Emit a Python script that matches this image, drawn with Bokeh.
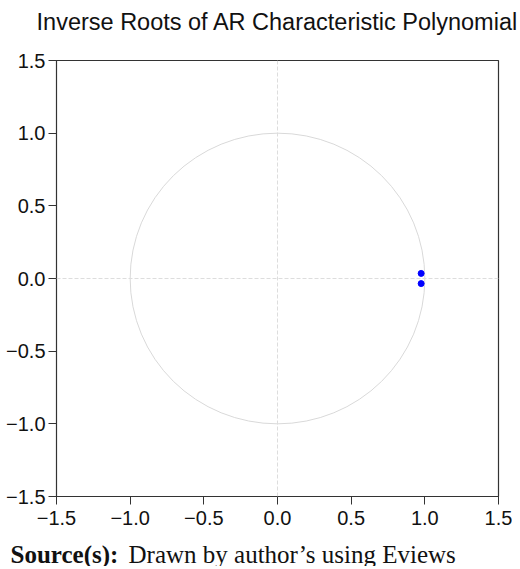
from bokeh.plotting import figure
from bokeh.models import Label, Span, Range1d, FixedTicker
from bokeh.embed import file_html
from bokeh.resources import INLINE

# data
root_re = [0.975, 0.975]
root_im = [0.035, -0.035]
ticks = [-1.5, -1.0, -0.5, 0.0, 0.5, 1.0, 1.5]
tick_labels = ["\u22121.5", "\u22121.0", "\u22120.5", "0.0", "0.5", "1.0", "1.5"]
title_text = "Inverse Roots of AR Characteristic Polynomial"
source_bold = "Source(s):"
source_text = "Drawn by author\u2019s using Eviews"

W = 512


def text_fig(w, h):
    f = figure(width=w, height=h, output_backend="svg", toolbar_location=None,
               x_range=Range1d(0, w), y_range=Range1d(h, 0),
               x_axis_type=None, y_axis_type=None,
               min_border=0, min_border_left=0, min_border_right=0,
               min_border_top=0, min_border_bottom=0)
    f.grid.visible = False
    f.outline_line_color = None
    return f


top = text_fig(518, 40)
top.add_layout(Label(x=277, y=21, text=title_text, text_font="Liberation Sans",
                     text_font_size="23.5px", text_color="#111111",
                     text_align="center", text_baseline="alphabetic"))

p = figure(width=W, height=496, output_backend="svg", toolbar_location=None,
           x_range=Range1d(-1.5, 1.5), y_range=Range1d(-1.5, 1.5),
           min_border_left=56, min_border_right=14, min_border_top=20, min_border_bottom=40)
p.grid.visible = False
p.outline_line_color = "#333333"
p.outline_line_width = 1.2
p.outline_line_alpha = 1.0

for ax in (p.xaxis[0], p.yaxis[0]):
    ax.ticker = FixedTicker(ticks=ticks)
    ax.major_label_overrides = {t: l for t, l in zip(ticks, tick_labels)}
    ax.major_label_text_font = "Liberation Sans"
    ax.major_label_text_font_size = "20px"
    ax.major_label_text_color = "#111111"
    ax.axis_line_color = "#333333"
    ax.major_tick_line_color = "#333333"
    ax.major_tick_out = 8
    ax.major_tick_in = 0
    ax.minor_tick_line_color = None
    ax.major_label_standoff = 3

p.xaxis[0].major_label_standoff = 6

p.add_layout(Span(location=0, dimension="width", line_color="#dddddd", line_dash="4 2", line_width=1))
p.add_layout(Span(location=0, dimension="height", line_color="#dddddd", line_dash="4 2", line_width=1))

p.ellipse(x=[0], y=[0], width=[2], height=[2], fill_color=None, line_color="#d9d9d9", line_width=1)

p.scatter(root_re, root_im, size=6, color="#0000ff")

bottom = text_fig(W, 30)
bottom.add_layout(Label(x=10, y=18, text=source_bold, text_font="Liberation Serif",
                        text_font_style="bold", text_font_size="25px", text_color="#111111",
                        text_baseline="alphabetic"))
bottom.add_layout(Label(x=128, y=18, text=source_text, text_font="Liberation Serif",
                        text_font_size="25px", text_color="#111111",
                        text_baseline="alphabetic"))

open("out.html", "w").write(file_html([top, p, bottom], INLINE))
